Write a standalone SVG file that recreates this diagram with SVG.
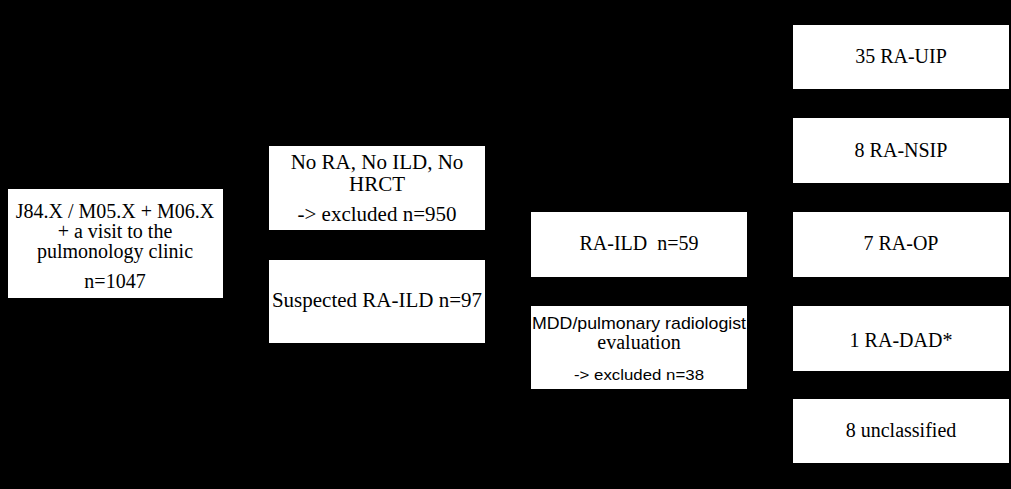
<svg xmlns="http://www.w3.org/2000/svg" width="1011" height="489" viewBox="0 0 1011 489">
<style>
.box{fill:#fff;stroke:none}
.s{font-family:"Liberation Serif","Times New Roman",serif;font-size:20px;fill:#000;text-anchor:middle}
.m{font-size:21px}
.a{font-family:"Liberation Sans",Arial,sans-serif;fill:#000;text-anchor:middle}
.c{stroke:#000;stroke-width:1.5;fill:none}
</style>
<rect width="1011" height="489" fill="#000"/>
<g id="connectors">
<path class="c" d="M223 243 H246 V188 H269 M246 243 V301 H269"/>
<path class="c" d="M485 301 H508 V244 H531 M508 301 V347 H531"/>
<path class="c" d="M747 244 H770 V57 H793 M770 150 H793 M770 244 H793 M770 338 H793 M770 244 V431 H793"/>
</g>
<g id="n1">
<rect class="box" x="8" y="189" width="215" height="109"/>
<text class="s" x="115" y="218" font-size="20.5">J84.X / M05.X + M06.X</text>
<text class="s" x="115" y="238" font-size="20.5">+ a visit to the</text>
<text class="s" x="115" y="258" font-size="20.5">pulmonology clinic</text>
<text class="s" x="115" y="288" font-size="20.5">n=1047</text>
</g>
<g id="n2">
<rect class="box" x="269" y="146" width="216" height="84"/>
<text class="s m" x="377" y="169">No RA, No ILD, No</text>
<text class="s m" x="377" y="191">HRCT</text>
<text class="s m" x="377" y="221">-&gt; excluded n=950</text>
</g>
<g id="n3">
<rect class="box" x="269" y="260" width="216" height="83"/>
<text class="s m" x="377" y="307">Suspected RA-ILD n=97</text>
</g>
<g id="n4">
<rect class="box" x="531" y="212" width="216" height="65"/>
<text class="s" x="639" y="250" style="white-space:pre">RA-ILD  n=59</text>
</g>
<g id="n5">
<rect class="box" x="531" y="306" width="216" height="83"/>
<text class="a" x="639" y="329" font-size="17" textLength="214" lengthAdjust="spacingAndGlyphs">MDD/pulmonary radiologist</text>
<text class="s" x="639" y="349">evaluation</text>
<text class="a" x="639" y="380" font-size="15" textLength="130" lengthAdjust="spacingAndGlyphs">-&gt; excluded n=38</text>
</g>
<g id="n6">
<rect class="box" x="793" y="25" width="216" height="64"/>
<text class="s" x="901" y="63">35 RA-UIP</text>
</g>
<g id="n7">
<rect class="box" x="793" y="118" width="216" height="65"/>
<text class="s" x="901" y="157">8 RA-NSIP</text>
</g>
<g id="n8">
<rect class="box" x="793" y="212" width="216" height="65"/>
<text class="s" x="901" y="250">7 RA-OP</text>
</g>
<g id="n9">
<rect class="box" x="793" y="306" width="216" height="65"/>
<text class="s" x="901" y="347">1 RA-DAD*</text>
</g>
<g id="n10">
<rect class="box" x="793" y="399" width="216" height="64"/>
<text class="s" x="901" y="437">8 unclassified</text>
</g>
</svg>
